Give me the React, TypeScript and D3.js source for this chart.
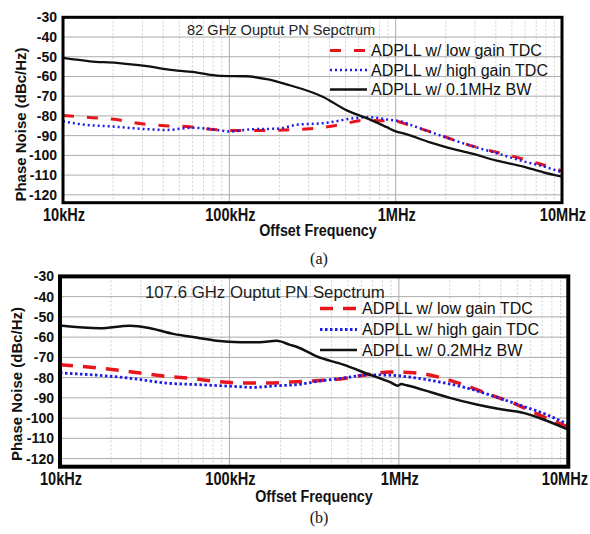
import React from "react";
import * as d3 from "d3";

// ---------- data ----------
const xTickValues = [1e4, 1e5, 1e6, 1e7];
const xTickLabels = ["10kHz", "100kHz", "1MHz", "10MHz"];
const yTickValues = [-30, -40, -50, -60, -70, -80, -90, -100, -110, -120];

const legendA = ["ADPLL w/ low gain TDC", "ADPLL w/ high gain TDC", "ADPLL w/ 0.1MHz BW"];
const legendB = ["ADPLL w/ low gain TDC", "ADPLL w/ high gain TDC", "ADPLL w/ 0.2MHz BW"];
const titleA = "82 GHz Ouptut PN Sepctrum";
const titleB = "107.6 GHz Ouptut PN Sepctrum";

// (a) 82 GHz
const aLowF = [1e4, 1.5e4, 2.14e4, 2.97e4, 4.1e4, 5.8e4, 8.0e4, 1.16e5, 1.68e5, 2.32e5, 3.05e5, 4.63e5, 6.37e5, 8.4e5, 1.0e6, 1.22e6, 1.77e6, 2.55e6, 3.69e6, 5.35e6, 7.4e6, 1e7];
const aLowPN = [-79.8, -80.9, -82, -84, -85, -85.5, -86.9, -87.4, -87.4, -87, -86.5, -84.5, -82.3, -82.5, -82.7, -84.9, -89.1, -93.9, -97.6, -101, -104.4, -107.8];
const aHighF = [1e4, 1.32e4, 2.0e4, 2.9e4, 4.2e4, 6.0e4, 8.4e4, 1.01e5, 1.39e5, 1.93e5, 2.54e5, 3.67e5, 5.84e5, 6.86e5, 8.84e5, 1.06e6, 1.34e6, 1.94e6, 2.8e6, 4.05e6, 5.86e6, 8.1e6, 1e7];
const aHighPN = [-82.7, -84.4, -85.4, -86.5, -87.1, -86, -87.1, -87.9, -86.7, -86.5, -84.5, -83.7, -81, -80.6, -81.8, -82.7, -85.7, -90.5, -95, -98.9, -103, -106.1, -108.6];
const aBwF = [1e4, 1.45e4, 2.1e4, 3.2e4, 4.6e4, 6.0e4, 8.8e4, 1.27e5, 1.68e5, 2.21e5, 3.67e5, 5.08e5, 6.86e5, 8.84e5, 1.0e6, 1.14e6, 1.61e6, 2.03e6, 2.93e6, 4.05e6, 5.86e6, 7.73e6, 1e7];
const aBwPN = [-50.6, -52.3, -53.1, -54.8, -56.8, -57.7, -59.7, -59.9, -61.4, -64, -70.4, -77.2, -81.5, -85.7, -87.8, -89.1, -93.4, -95.9, -99.3, -102.7, -105.7, -108.6, -110.8];

// (b) 107.6 GHz
const bLowF = [1e4, 1.72e4, 2.97e4, 4.26e4, 6.1e4, 8.4e4, 1.21e5, 1.66e5, 2.28e5, 3.27e5, 4.5e5, 6.46e5, 8.87e5, 1.27e6, 1.75e6, 2.4e6, 3.45e6, 4.97e6, 6.82e6, 1e7];
const bLowPN = [-73.6, -75.3, -77.7, -79.4, -80.5, -81.9, -82.7, -82.7, -82.2, -81.5, -80.7, -78.6, -77.2, -77.7, -79.9, -83.5, -88.4, -93.3, -98.6, -104.5];
const bHighF = [1e4, 1.72e4, 2.7e4, 4.26e4, 6.7e4, 1.05e5, 1.38e5, 1.9e5, 2.5e5, 3.27e5, 4.7e5, 6.76e5, 9.28e5, 1.27e6, 1.75e6, 2.51e6, 3.78e6, 5.43e6, 7.46e6, 1e7];
const bHighPN = [-77.7, -78.9, -80.5, -82.7, -83.5, -84.3, -84.8, -84, -83.5, -81.9, -80.2, -78.6, -78.9, -80.2, -82.2, -85.1, -89.7, -94.2, -98.3, -103.2];
const bBwF = [1e4, 1.72e4, 2.59e4, 3.4e4, 4.67e4, 6.7e4, 8.4e4, 1.156e5, 1.51e5, 1.9e5, 2.28e5, 2.55e5, 3.27e5, 4.7e5, 6.76e5, 8.87e5, 9.9e5, 1.03e6, 1.11e6, 1.53e6, 2.0e6, 2.88e6, 3.78e6, 5.43e6, 7.13e6, 1e7];
const bBwPN = [-54.3, -55.6, -54.4, -55.6, -58.4, -60.5, -61.8, -62.5, -62.5, -61.8, -63.8, -65.1, -69.5, -73.6, -78.6, -82.2, -84, -83.2, -83.8, -87.1, -90, -93.3, -95.3, -97.4, -100.7, -105.7];

const RED = "#e8161c";
const BLUE = "#1c1ce6";
const BLACK = "#111111";
const FONT = "'Liberation Sans', Arial, sans-serif";

type Cfg = {
  id: string;
  left: number; right: number; top: number; bottom: number;
  border: number;
  series: { f: number[]; v: number[]; color: string; dash: string; width: number }[];
  legend: string[];
  title: string;
  titleX: number; titleY: number; titleSize: number;
  legX: number; legY: number[]; legLineX0: number; legLineX1: number;
  xLabelY: number; xTitleY: number; xTitleX: number;
  yTitleX: number; yTitleY: number;
  caption: string; captionY: number;
};

function Chart({ c }: { c: Cfg }) {
  const x = d3.scaleLog().domain([1e4, 1e7]).range([c.left, c.right]);
  const y = d3.scaleLinear().domain([-30, -124]).range([c.top, c.bottom]);
  const minor: number[] = [];
  [1e4, 1e5, 1e6].forEach((d) => {
    for (let k = 2; k <= 9; k++) minor.push(d * k);
  });
  const line = d3
    .line<[number, number]>()
    .x((d) => x(d[0]))
    .y((d) => y(d[1]))
    .curve(d3.curveMonotoneX);
  return (
    <g>
      <defs>
        <clipPath id={"clip" + c.id}>
          <rect x={c.left} y={c.top} width={c.right - c.left} height={c.bottom - c.top} />
        </clipPath>
      </defs>
      {minor.map((m) => (
        <line key={"m" + m} x1={x(m)} x2={x(m)} y1={c.top} y2={c.bottom} stroke="#cfcfcf" strokeWidth={1} strokeDasharray="2,2" />
      ))}
      {yTickValues.map((t) => (
        <line key={"h" + t} x1={c.left} x2={c.right} y1={y(t)} y2={y(t)} stroke="#ababab" strokeWidth={1} />
      ))}
      {xTickValues.map((t) => (
        <line key={"v" + t} x1={x(t)} x2={x(t)} y1={c.top} y2={c.bottom} stroke="#ababab" strokeWidth={1} />
      ))}
      <text x={c.titleX} y={c.titleY} fontFamily={FONT} fontSize={c.titleSize} fill="#222">{c.title}</text>
      {c.series.map((s, i) => (
        <g key={"l" + i}>
          <line x1={c.legLineX0} x2={c.legLineX1} y1={c.legY[i] - 5.5} y2={c.legY[i] - 5.5} stroke={s.color} strokeWidth={s.width} strokeDasharray={s.dash} />
          <text x={c.legX} y={c.legY[i]} fontFamily={FONT} fontSize={16} fill="#111">{c.legend[i]}</text>
        </g>
      ))}
      <g clipPath={`url(#clip${c.id})`}>
        {c.series.map((s, i) => (
          <path key={"s" + i} d={line(s.f.map((f, j) => [f, s.v[j]] as [number, number])) || ""} fill="none" stroke={s.color} strokeWidth={s.width} strokeDasharray={s.dash} />
        ))}
      </g>
      <rect x={c.left} y={c.top} width={c.right - c.left} height={c.bottom - c.top} fill="none" stroke="#000" strokeWidth={c.border} />
      {yTickValues.map((t) => (
        <text key={"yt" + t} x={c.left - 6} y={y(t) + 5} textAnchor="end" fontFamily={FONT} fontWeight="bold" fontSize={14} fill="#111">{t}</text>
      ))}
      {xTickValues.map((t, i) => {
        const last = i === xTickValues.length - 1;
        const px = last ? Math.min(x(t) + 24, 588) : x(t) + 1;
        return (
          <text key={"xt" + t} transform={`translate(${px},${c.xLabelY}) scale(1,1.22)`} textAnchor={last ? "end" : "middle"} fontFamily={FONT} fontWeight="bold" fontSize={14.6} fill="#111">{xTickLabels[i]}</text>
        );
      })}
      <text transform={`translate(${c.xTitleX},${c.xTitleY}) scale(1,1.2)`} textAnchor="middle" fontFamily={FONT} fontWeight="bold" fontSize={14.3} fill="#111">Offset Frequency</text>
      <text transform={`translate(${c.yTitleX},${c.yTitleY}) rotate(-90)`} textAnchor="middle" fontFamily={FONT} fontWeight="bold" fontSize={15} fill="#111">Phase Noise (dBc/Hz)</text>
      <text x={319} y={c.captionY} textAnchor="middle" fontFamily="'Liberation Serif', 'Times New Roman', serif" fontSize={16} fill="#111">{c.caption}</text>
    </g>
  );
}

const cfgA: Cfg = {
  id: "a", left: 63, right: 562, top: 17.3, bottom: 202.7, border: 3,
  series: [
    { f: aLowF, v: aLowPN, color: RED, dash: "11,13", width: 3 },
    { f: aHighF, v: aHighPN, color: BLUE, dash: "2,3", width: 2.5 },
    { f: aBwF, v: aBwPN, color: BLACK, dash: "", width: 2.3 },
  ],
  legend: legendA, title: titleA, titleX: 187, titleY: 35, titleSize: 14.6,
  legX: 371, legY: [56, 75.5, 95], legLineX0: 330, legLineX1: 367,
  xLabelY: 221, xTitleY: 235.5, xTitleX: 318, yTitleX: 25.5, yTitleY: 124.5,
  caption: "(a)", captionY: 264,
};

const cfgB: Cfg = {
  id: "b", left: 60, right: 568.3, top: 276.4, bottom: 466.7, border: 4,
  series: [
    { f: bLowF, v: bLowPN, color: RED, dash: "13,10", width: 3.5 },
    { f: bHighF, v: bHighPN, color: BLUE, dash: "2.5,2.5", width: 2.8 },
    { f: bBwF, v: bBwPN, color: BLACK, dash: "", width: 2.5 },
  ],
  legend: legendB, title: titleB, titleX: 145, titleY: 298, titleSize: 16.8,
  legX: 362, legY: [314, 335, 355.5], legLineX0: 320, legLineX1: 357,
  xLabelY: 485, xTitleY: 502, xTitleX: 314, yTitleX: 21.5, yTitleY: 384,
  caption: "(b)", captionY: 523,
};

export default function App() {
  return (
    <svg width={590} height={534} style={{ position: "absolute", left: 0, top: 0, background: "#fff" }}>
      <rect width={590} height={534} fill="#fff" />
      <Chart c={cfgA} />
      <Chart c={cfgB} />
    </svg>
  );
}
